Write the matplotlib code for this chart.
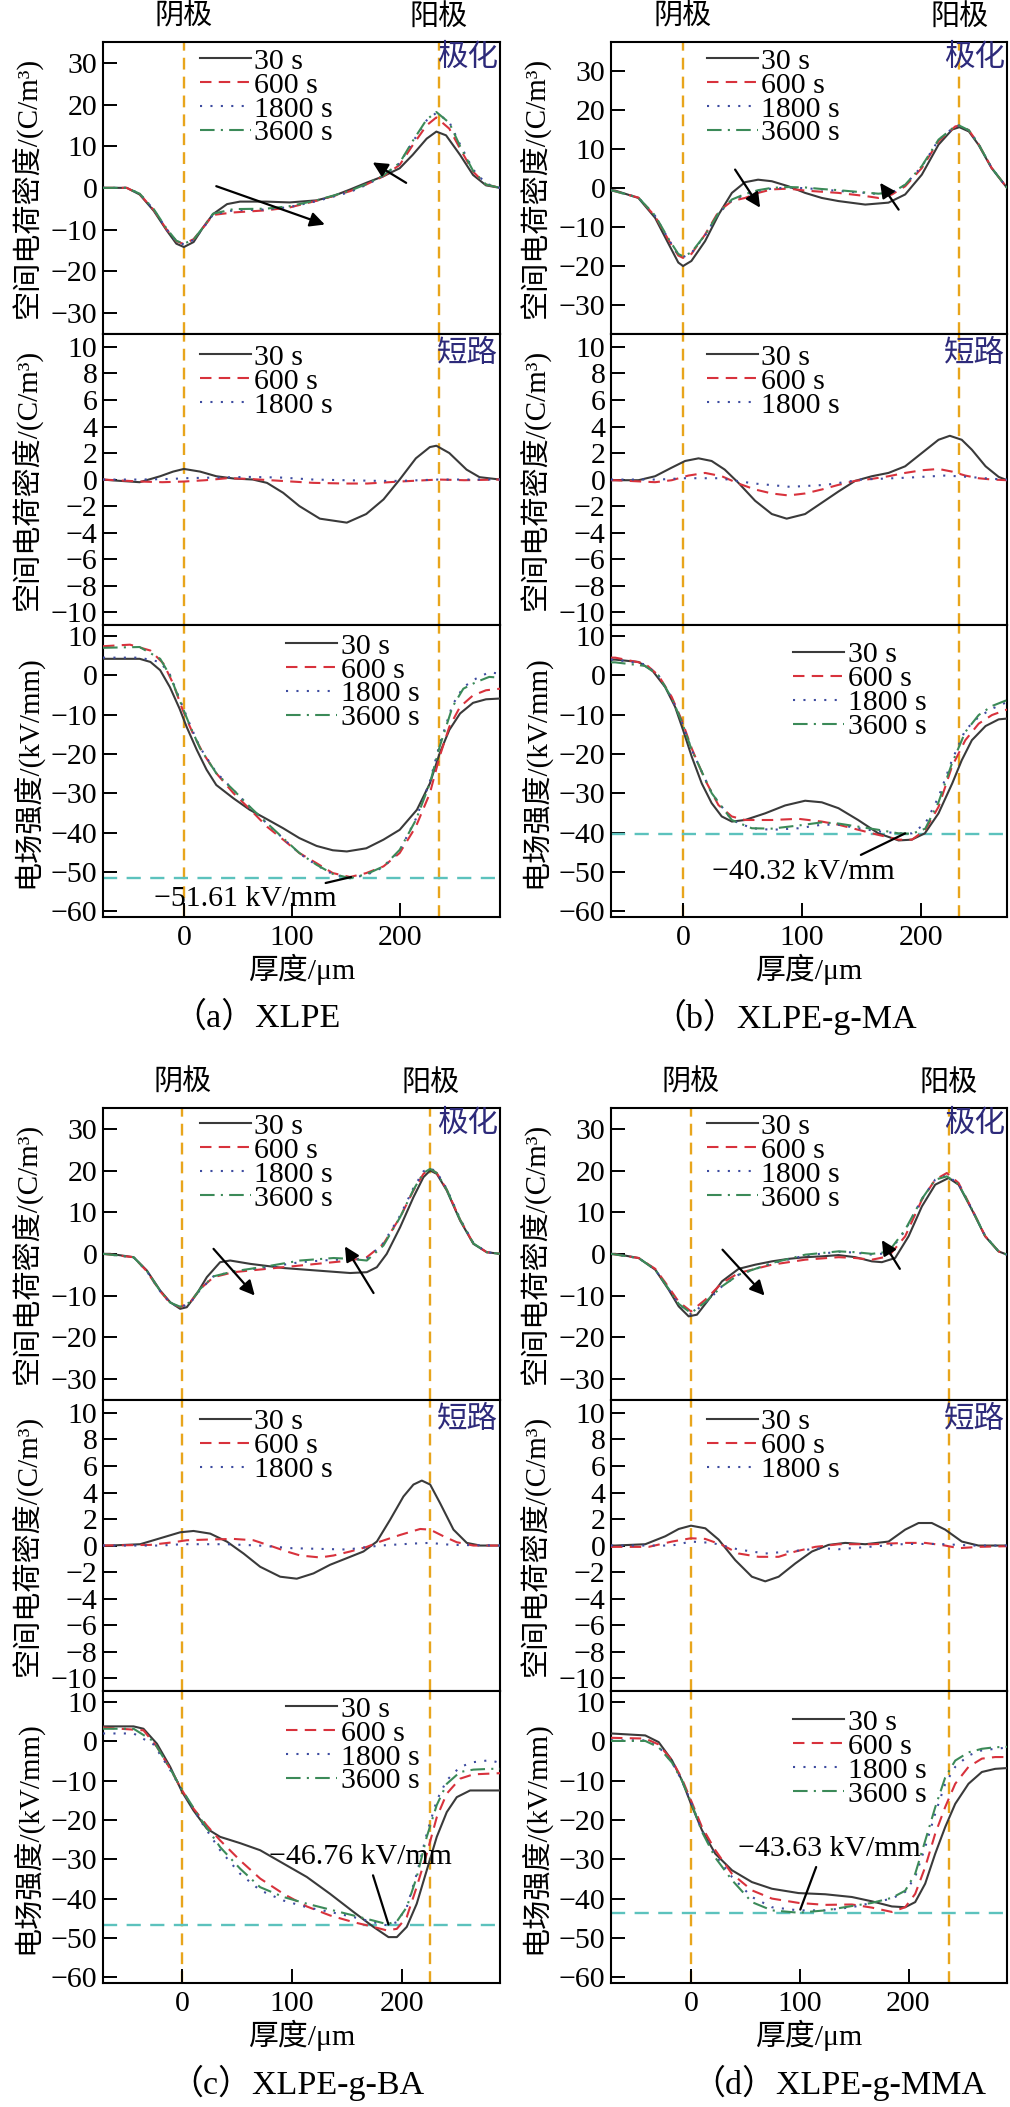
import matplotlib
matplotlib.use('Agg')
import matplotlib.pyplot as plt
import matplotlib.transforms as mtransforms

plt.rcParams['font.family'] = ['Liberation Serif', 'Noto Sans CJK SC']
plt.rcParams['axes.unicode_minus'] = True

# ---------------- labels / meta ----------------
TIMES_POL = ['30 s', '600 s', '1800 s', '3600 s']
TIMES_SC = ['30 s', '600 s', '1800 s']
CAPTIONS = ['（a）XLPE', '（b）XLPE-g-MA', '（c）XLPE-g-BA', '（d）XLPE-g-MMA']
CAPTION_X = [256, 785, 297, 839]
ANODE_X = [236, 232, 225.5, 237]
XLIMS = [(-75, 293), (-60.5, 272), (-72, 289), (-73.5, 290.5)]
PEAK_FIELD = [-51.61, -40.32, -46.76, -43.63]
PEAK_TEXT = ['−51.61 kV/mm', '−40.32 kV/mm', '−46.76 kV/mm', '−43.63 kV/mm']
PEAK_TEXT_XY = [(57, -57), (101, -50), (162, -29.4), (127, -27.3)]
PEAK_POINT = [(155, -51.3), (186.5, -40.2), (187.6, -46.6), (100.5, -42.8)]
PEAK_RELPOS = [(0.86, 1.0), (0.77, 1.0), (0.56, 0.0), (0.44, 0.0)]
ARROW1 = [((30, 0.4), (130.6, -8.8)), ((43.7, 4.7), (64.7, -5.1)),
          ((28.5, 1.2), (66, -10)), ((29, 1), (67.7, -10))]
ARROW2 = [((206, 1.2), (175, 6.1)), ((181, -5.6), (165.5, 1.3)),
          ((174, -9.4), (148, 1.8)), ((192, -3.6), (175.5, 3.3))]

# ---------------- panel (a) XLPE ----------------
A_POL_X_30 = [-75, -68, -53, -41, -28, -16, -7, 0, 9, 18, 27, 40, 52, 76, 98, 123, 138, 154, 169, 185, 200, 212, 225, 234, 243, 256, 268, 280, 293]
A_POL_Y_30 = [0, 0, 0, -1.6, -5.5, -10.2, -13.4, -14.2, -13, -9.4, -6.3, -3.9, -3.3, -3.3, -3.5, -3, -2, -0.4, 1.2, 2.8, 4.7, 7.9, 11.8, 13.5, 12.6, 7.9, 3.1, 0.6, 0]
A_POL_X = [-75, -53, -41, -28, -16, -7, 0, 9, 18, 27, 46, 76, 98, 123, 154, 169, 185, 200, 212, 225, 234, 246, 256, 268, 280, 293]
A_POL_Y_600 = [0, 0, -1.5, -5.3, -10, -12.8, -13.5, -12.3, -9.5, -6.5, -5.9, -5.4, -4.7, -3.1, -0.8, 0.8, 2.8, 5.5, 10.2, 15, 16.9, 14.2, 9.4, 3.9, 0.8, 0]
A_POL_Y_1800 = [0, 0, -1.4, -5.2, -9.9, -12.9, -13.6, -12.5, -9.6, -6.4, -5.4, -5.2, -4.6, -3.2, -1.0, 0.7, 2.9, 5.9, 11.0, 16.2, 18.0, 15.8, 10.4, 4.4, 1.0, 0]
A_POL_Y_3600 = [0, 0, -1.4, -5.1, -9.8, -12.7, -13.4, -12.4, -9.4, -6.2, -5.1, -5.0, -4.4, -3.0, -0.7, 0.9, 3.0, 6.0, 11.2, 16.4, 18.2, 15.6, 10.0, 4.1, 0.8, 0]

A_SC_X_30 = [-75, -68, -41, -22, -10, 0, 15, 30, 46, 64, 77, 92, 107, 126, 151, 169, 185, 200, 215, 228, 234, 246, 262, 274, 293]
A_SC_Y_30 = [0, -0.05, -0.2, 0.25, 0.6, 0.8, 0.6, 0.25, 0.08, 0, -0.25, -1, -2, -2.95, -3.25, -2.6, -1.5, 0, 1.6, 2.45, 2.55, 2, 0.75, 0.18, 0]
A_SC_X_600 = [-75, -40, -20, 0, 20, 40, 60, 90, 120, 150, 170, 200, 236, 260, 293]
A_SC_Y_600 = [0, -0.15, -0.2, -0.15, -0.05, 0.1, 0.05, -0.1, -0.25, -0.3, -0.3, -0.15, 0, -0.05, 0]
A_SC_X_1800 = [-75, -40, -10, 0, 30, 60, 90, 120, 150, 180, 200, 236, 293]
A_SC_Y_1800 = [0, 0, 0.05, 0.1, 0.15, 0.2, 0.15, 0.0, -0.05, -0.1, -0.1, 0, 0]

A_E_X_30 = [-75, -41, -31, -22, -13, -4, 2.5, 12, 21, 30, 46, 61, 77, 92, 107, 123, 138, 151, 169, 185, 200, 216, 228, 237, 246, 256, 268, 280, 293]
A_E_Y_30 = [4.2, 4.2, 3.4, 1.3, -3, -8.5, -13.1, -19, -24, -27.9, -31.3, -34.2, -36.6, -38.9, -41.4, -43.4, -44.5, -44.8, -44, -41.8, -39.3, -34.2, -27.5, -19.9, -13.9, -9.7, -7, -6.1, -5.9]
A_E_X_600 = [-75, -50, -31, -19, -10, -1, 9, 18, 30, 46, 61, 77, 92, 107, 123, 138, 154, 169, 185, 200, 215, 228, 237, 246, 256, 268, 280, 293]
A_E_Y_600 = [7.4, 7.8, 6.3, 3, -2.1, -8.9, -15.2, -19.9, -24.9, -30, -34, -38.5, -41.8, -45.2, -47.8, -50.3, -51.3, -50.3, -48.6, -45.2, -38.5, -30, -20.7, -13.1, -8, -5.1, -3.8, -3.4]
A_E_X = [-75, -41, -22, -13, -4, 6, 15, 30, 46, 61, 77, 92, 107, 123, 138, 154, 169, 185, 200, 215, 228, 237, 249, 259, 271, 283, 293]
A_E_Y_1800 = [4.5, 4.5, 3.4, 0.2, -6, -12.8, -18.4, -24.7, -29.2, -33.5, -37.7, -41.5, -45.3, -48.3, -50.6, -51.6, -50.8, -48.8, -44.6, -36.5, -27, -17.6, -7.5, -3, -0.8, 0.8, 0.4]
A_E_Y_3600 = [7, 7.2, 4.2, 0, -6.3, -13.1, -18.6, -24.9, -29.2, -33.4, -37.6, -41.4, -45.2, -48.2, -50.5, -51.6, -50.6, -48.6, -44.4, -36.8, -27.5, -18.2, -8, -3.4, -1.7, -0.4, -0.6]

# ---------------- panel (b) XLPE-g-MA ----------------
B_POL_X_30 = [-60.5, -57, -37.5, -23.5, -12, -4, 0, 7, 18.5, 30, 41, 52, 63, 74.5, 88.5, 102.5, 116.5, 130.5, 153, 172.5, 186.5, 200.5, 214.5, 226, 232, 240, 248, 259, 272]
B_POL_Y_30 = [-0.6, -0.7, -2.6, -7.7, -14.5, -19.2, -20.1, -18.8, -13.7, -6.8, -1.3, 1.45, 2.1, 1.7, 0.4, -1.3, -2.6, -3.4, -4.3, -3.8, -1.7, 3.4, 11.1, 15, 15.6, 14.5, 11.1, 5.1, 0]
B_POL_X = [-60.5, -37.5, -23.5, -12, -4, 0, 7, 18.5, 30, 41, 52, 63, 74.5, 88.5, 102.5, 116.5, 130.5, 153, 164, 175.4, 186.5, 200.5, 214.5, 228.6, 232, 240, 248, 259, 272]
B_POL_Y_600 = [-0.6, -2.5, -7.3, -13.5, -17.4, -18, -17, -12, -6, -3.4, -2.6, -1.3, -0.4, -0.2, -0.7, -1, -1.3, -2.1, -2.6, -1.7, 0.4, 5.1, 12, 15.8, 16, 14.8, 11.3, 5.2, 0]
B_POL_Y_1800 = [-0.6, -2.5, -7.2, -13.3, -17.2, -17.8, -16.8, -12.2, -6.5, -3.2, -1.8, -0.8, -0.2, 0.1, -0.1, -0.4, -0.8, -1.3, -1.6, -1.2, 0.8, 5.5, 12.3, 15.9, 16, 14.8, 11.3, 5.2, 0]
B_POL_Y_3600 = [-0.6, -2.5, -7.1, -13.2, -17, -17.6, -16.6, -12.1, -6.4, -3, -1.6, -0.6, 0, 0.2, 0.1, -0.3, -0.6, -1.2, -1.5, -1.2, 0.8, 5.6, 12.4, 15.9, 16, 14.8, 11.3, 5.2, 0]

B_SC_X_30 = [-60.5, -57, -37.5, -23.5, -9.5, 1.7, 13, 24, 35, 46.5, 60.5, 74.5, 87, 102.5, 116.5, 130.5, 144.5, 158.5, 172.5, 186.5, 200.5, 214.5, 224, 234, 242.5, 254, 265, 272]
B_SC_Y_30 = [-0.05, -0.05, -0.05, 0.25, 0.9, 1.4, 1.6, 1.4, 0.75, -0.25, -1.6, -2.6, -2.95, -2.6, -1.75, -0.9, -0.1, 0.25, 0.5, 1, 2, 3, 3.3, 3, 2.25, 1, 0.2, -0.05]
B_SC_X_600 = [-60.5, -57, -23.5, -9.5, 4.5, 18.5, 32.5, 46.5, 60.5, 74.5, 88.5, 102.5, 116.5, 130.5, 144.5, 158.5, 172.5, 186.5, 200.5, 214.5, 225.8, 237, 248, 259.4, 272]
B_SC_Y_600 = [-0.05, -0.05, -0.2, -0.05, 0.3, 0.5, 0.25, -0.3, -0.75, -1.05, -1.2, -1.05, -0.75, -0.4, -0.1, 0.05, 0.25, 0.5, 0.7, 0.8, 0.6, 0.3, 0.1, 0, -0.05]
B_SC_X_1800 = [-60.5, -20, 0, 30, 60, 90, 120, 150, 190, 220, 240, 260, 272]
B_SC_Y_1800 = [0, 0, 0.1, 0.1, -0.3, -0.55, -0.4, 0, 0.15, 0.3, 0.2, 0.05, 0]

B_E_X_30 = [-60.5, -57, -37.5, -26, -15, -6.7, 0, 7.3, 15.7, 24, 32.5, 41, 52, 69, 85.7, 102.5, 116.5, 130.5, 147, 164, 181, 192, 203, 214.5, 226, 234, 242.5, 254, 265, 272]
B_E_Y_30 = [4, 4, 3.4, 1.3, -3, -8, -13.9, -20.7, -27.5, -32.5, -35.9, -37.2, -36.8, -35.1, -33.1, -31.9, -32.3, -33.8, -36.8, -40.2, -42, -41.8, -40.2, -35.1, -27.5, -21.6, -16.5, -12.9, -11.2, -11]
B_E_X_600 = [-60.5, -57, -32, -20.7, -9.5, -1.1, 7.3, 18.5, 29.7, 40.9, 52.1, 74.5, 96.9, 116.5, 130.5, 147.3, 164.1, 181, 192.2, 203.4, 214.6, 225.8, 237, 248.2, 259.4, 272]
B_E_Y_600 = [4.5, 4.5, 3, 0, -5.5, -11.4, -18.6, -26.6, -33, -35.9, -36.8, -36.8, -36.5, -37.2, -38, -39.3, -40.6, -41.8, -41.8, -39.3, -33.4, -23.2, -16.5, -12.3, -10.1, -8.7]
B_E_X = [-60.5, -57, -32, -20.7, -9.5, -1.1, 7.3, 24.1, 40.9, 57.7, 74.5, 96.9, 116.5, 130.5, 147.3, 164.1, 181, 192.2, 203.4, 214.6, 225.8, 237, 248.2, 259.4, 272]
B_E_Y_1800 = [4, 4, 2.8, 0, -5.8, -11.8, -19, -30, -36.8, -38.9, -39.3, -38.9, -38, -38, -38.9, -39.7, -40.2, -40.2, -37.7, -30.9, -21.6, -13.9, -10.6, -8.5, -6.8]
B_E_Y_3600 = [3.3, 3.3, 2.4, 0, -5.8, -11.8, -19, -30, -36.8, -38.9, -39, -38.2, -37.4, -37.7, -38.5, -39.3, -40.2, -40.3, -39, -32.2, -22.4, -14.4, -10.1, -7.8, -6.3]

# ---------------- panel (c) XLPE-g-BA ----------------
C_POL_X_30 = [-72, -65.5, -44.2, -32.1, -20, -10.9, -1.8, 4.2, 13.3, 22.4, 34.5, 43.6, 61.8, 92.1, 122.4, 152.7, 167.9, 177, 186, 198.2, 210.3, 219.4, 225.5, 231.5, 240.6, 252.7, 264.8, 276.9, 289]
C_POL_Y_30 = [0, 0, -0.8, -4, -8.8, -11.6, -13.2, -12.8, -9.6, -5.6, -2, -1.6, -2.4, -3.4, -4, -4.6, -4.4, -3.2, 0, 6.4, 13.6, 18.4, 20, 19.2, 15.2, 8, 2.4, 0.4, 0]
C_POL_X = [-72, -44.2, -32.1, -20, -10.9, -1.8, 7.3, 16.4, 28.5, 46.7, 77, 107.3, 137.6, 152.7, 167.9, 183, 198.2, 210.3, 219.4, 225.5, 231.5, 240.6, 252.7, 264.8, 276.9, 289]
C_POL_Y_600 = [0, -0.8, -4.2, -9, -11.8, -12.8, -11.6, -8.4, -5.6, -4.4, -3.6, -2.8, -2, -1.6, -0.8, 2.4, 8.8, 15.2, 19.2, 20.4, 19.4, 15.4, 8.2, 2.5, 0.4, 0]
C_POL_Y_1800 = [0, -0.8, -4.2, -9, -11.8, -12.9, -11.8, -8.6, -5.4, -4.2, -3.2, -2, -1.4, -1.4, -1.2, 2.6, 9.2, 15.8, 19.8, 20.6, 19.6, 15.6, 8.4, 2.6, 0.4, 0]
C_POL_Y_3600 = [0, -0.8, -4.1, -8.9, -11.7, -12.7, -11.6, -8.4, -5.4, -4.2, -3.0, -1.6, -1.0, -1.2, -1.6, 2.0, 8.8, 15.4, 19.4, 20.4, 19.4, 15.4, 8.2, 2.5, 0.4, 0]

C_SC_X_30 = [-72, -65.5, -38.2, -20, -1.8, 10.3, 25.5, 40.6, 55.8, 70.9, 89.1, 104.2, 119.4, 134.5, 149.7, 164.8, 177, 189.1, 201.2, 210.3, 217.9, 225.5, 234.5, 246.7, 258.8, 270.9, 289]
C_SC_Y_30 = [0, 0, 0.1, 0.55, 1, 1.1, 0.9, 0.3, -0.6, -1.6, -2.35, -2.5, -2.1, -1.45, -0.95, -0.45, 0.3, 1.95, 3.7, 4.6, 4.9, 4.6, 3.2, 1.2, 0.2, 0, 0]
C_SC_X_600 = [-72, -29.1, -7.9, 4.2, 22.4, 46.7, 64.8, 83, 95.2, 107.3, 125.5, 137.6, 152.7, 167.9, 180, 198.2, 216.4, 225.5, 237.6, 249.7, 264.8, 289]
C_SC_Y_600 = [0, 0.05, 0.25, 0.4, 0.45, 0.5, 0.4, -0.1, -0.45, -0.75, -0.9, -0.75, -0.45, -0.1, 0.3, 0.8, 1.25, 1.2, 0.7, 0.25, 0, 0]
C_SC_X_1800 = [-72, -20, 0, 40, 70, 100, 150, 180, 210, 225, 245, 289]
C_SC_Y_1800 = [0, 0, 0.1, 0.1, 0, -0.2, -0.3, 0, 0.15, 0.2, 0.05, 0]

C_E_X_30 = [-72, -44.2, -35.2, -23, -10.9, 0, 10.3, 22.4, 34.5, 52.7, 70.9, 92.1, 113.3, 134.5, 155.8, 173.9, 187.6, 195.2, 204.2, 213.3, 222.4, 231.5, 240.6, 249.7, 261.8, 289]
C_E_Y_30 = [3.8, 3.8, 3.2, -0.6, -6.5, -12.9, -17.6, -22.2, -24.3, -25.9, -27.7, -31.1, -34.5, -38.8, -43.4, -47.2, -49.8, -49.8, -47.2, -41.3, -32.8, -24.3, -18, -14.2, -12.5, -12.5]
C_E_X_600 = [-72, -35.2, -23, -10.9, 0, 10.3, 22.4, 34.5, 52.7, 70.9, 92.1, 113.3, 134.5, 155.8, 173.9, 186.1, 195.2, 204.2, 213.3, 222.4, 231.5, 240.6, 252.7, 264.8, 289]
C_E_Y_600 = [3.5, 2.8, -1.4, -7, -12.5, -17.1, -21.4, -25.2, -30.3, -34.9, -38.8, -42, -44.3, -46, -47.2, -48.1, -47.7, -44.7, -37, -28.6, -19.3, -13.3, -9.5, -8.4, -8.1]
C_E_X = [-72, -44.2, -26, -10.9, 0, 16.4, 34.5, 52.7, 70.9, 92.1, 113.3, 134.5, 155.8, 173.9, 186.1, 195.2, 204.2, 213.3, 222.4, 231.5, 240.6, 252.7, 264.8, 280, 289]
C_E_Y_1800 = [2, 2, -0.8, -7.3, -12.5, -20.1, -27.7, -33.7, -37.9, -40.5, -42.2, -43.4, -44.7, -46, -46.8, -46, -42.2, -33.7, -23.5, -15, -9.9, -6.5, -5.3, -4.8, -5.5]
C_E_Y_3600 = [3.2, 3.2, 0, -7, -12.4, -19.6, -26.9, -32.4, -37.1, -39.6, -41.3, -42.8, -44.3, -45.6, -46.5, -45.8, -42.2, -34.5, -24.3, -16.2, -10.8, -7.8, -7.2, -7.0, -7.0]

# ---------------- panel (d) XLPE-g-MMA ----------------
D_POL_X_30 = [-73.5, -69.5, -48.1, -32.8, -20.5, -11.3, -2.1, 5.5, 16.2, 28.5, 43.8, 59.1, 74.4, 89.7, 105, 120.4, 135.7, 151, 166.3, 175.5, 187.7, 200, 212.3, 224.5, 236.8, 246, 258.2, 270.4, 282.7, 290.5]
D_POL_Y_30 = [0, 0, -1, -3.8, -8.6, -12.6, -15, -14.6, -11, -6.6, -3.6, -2.6, -1.8, -1.2, -0.8, -0.6, -0.3, -0.8, -1.8, -2, -1, 4.2, 11.4, 16.6, 18.2, 16.6, 10.6, 4.2, 0.6, -0.2]
D_POL_X = [-73.5, -48.1, -32.8, -20.5, -11.3, 0, 13.2, 28.5, 43.8, 74.4, 105, 135.7, 151, 166.3, 181.6, 196.9, 212.3, 224.5, 235.2, 246, 258.2, 270.4, 282.7, 290.5]
D_POL_Y_600 = [0, -1, -3.6, -8, -11.5, -13.8, -11, -7, -4.6, -2.6, -1.4, -0.8, -1, -1.4, -0.6, 4.2, 13, 17.8, 19.4, 17, 10.8, 4.3, 0.6, -0.2]
D_POL_Y_1800 = [0, -1, -3.8, -8.4, -12, -14.5, -11.8, -7.8, -5, -2.3, -0.4, 0.5, 0.3, -0.2, 0.2, 5.6, 13.2, 17.8, 18.8, 16.8, 10.7, 4.3, 0.6, -0.2]
D_POL_Y_3600 = [0, -1, -3.8, -8.4, -12, -14.2, -11.6, -7.8, -5, -2.2, -0.2, 0.6, 0.4, 0, 0.5, 5.8, 13.2, 17.8, 18.6, 16.7, 10.7, 4.3, 0.6, -0.2]

D_SC_X_30 = [-73.5, -69.5, -42, -23.6, -11.3, 0, 13.2, 25.4, 40.7, 56, 68.3, 80.6, 95.9, 111.2, 126.5, 141.8, 160.2, 181.6, 196.9, 209.2, 221.4, 233.7, 249, 264.3, 290.5]
D_SC_Y_30 = [0, 0, 0.1, 0.7, 1.25, 1.5, 1.3, 0.45, -1.1, -2.35, -2.7, -2.35, -1.35, -0.45, 0.05, 0.2, 0.1, 0.3, 1.2, 1.7, 1.7, 1.2, 0.3, 0, 0]
D_SC_X_600 = [-73.5, -38.9, -17.5, 0, 13.2, 28.5, 43.8, 62.2, 80.6, 95.9, 114.2, 135.7, 166.3, 196.9, 215.3, 233.7, 245.9, 264.3, 290.5]
D_SC_Y_600 = [-0.1, -0.1, 0.3, 0.55, 0.5, 0.05, -0.6, -0.85, -0.85, -0.45, -0.1, 0.1, 0.1, 0.2, 0.2, 0, -0.2, -0.1, -0.05]
D_SC_X_1800 = [-73.5, -17.5, 0, 19.3, 43.8, 68.3, 89.7, 120.4, 135.7, 166.3, 196.9, 227.6, 258.2, 290.5]
D_SC_Y_1800 = [0, 0, 0.3, 0.2, -0.3, -0.6, -0.45, -0.2, -0.28, -0.08, 0.12, 0.12, 0, 0]

D_E_X = [-73.5, -42, -29.7, -17.5, -8.3, 0, 10.1, 22.4, 37.7, 56, 74.4, 98.9, 123.4, 147.9, 166.3, 184.7, 196.9, 206.1, 215.3, 224.5, 233.7, 242.9, 255.1, 267.4, 279.6, 290.5]
D_E_Y_30 = [2, 1.5, -0.2, -4.8, -9.9, -15.9, -22.6, -28.6, -32.8, -35.8, -37.5, -38.6, -38.9, -39.6, -40.7, -42, -42.2, -40.9, -36.2, -28.6, -21.8, -15.9, -10.8, -7.8, -7, -6.8]
D_E_Y_600 = [0.9, 0.7, -0.8, -4.8, -9.5, -15, -21.8, -27.7, -33.7, -37.9, -40, -41.1, -41.6, -41.5, -42.3, -43.4, -42.2, -38.8, -32, -23.5, -16.7, -10.8, -6.5, -4.4, -4, -4]
D_E_Y_1800 = [0.25, 0.25, -1.4, -5.3, -10, -15.4, -22.8, -29, -34.5, -39.6, -42.2, -43, -43, -42.2, -41.1, -40, -38.3, -34.5, -26.9, -18.4, -10.8, -6.5, -3.6, -2.3, -1.9, -1.6]
D_E_Y_3600 = [0.1, 0.1, -1.5, -5.4, -10, -15.4, -23, -29.6, -35.3, -40.9, -43, -43.6, -43, -41.9, -41.1, -39.8, -38, -33.7, -25.3, -16.8, -9.2, -4.9, -2.8, -1.9, -1.5, -1.4]

POL = [
    [(A_POL_X_30, A_POL_Y_30), (A_POL_X, A_POL_Y_600), (A_POL_X, A_POL_Y_1800), (A_POL_X, A_POL_Y_3600)],
    [(B_POL_X_30, B_POL_Y_30), (B_POL_X, B_POL_Y_600), (B_POL_X, B_POL_Y_1800), (B_POL_X, B_POL_Y_3600)],
    [(C_POL_X_30, C_POL_Y_30), (C_POL_X, C_POL_Y_600), (C_POL_X, C_POL_Y_1800), (C_POL_X, C_POL_Y_3600)],
    [(D_POL_X_30, D_POL_Y_30), (D_POL_X, D_POL_Y_600), (D_POL_X, D_POL_Y_1800), (D_POL_X, D_POL_Y_3600)],
]
SC = [
    [(A_SC_X_30, A_SC_Y_30), (A_SC_X_600, A_SC_Y_600), (A_SC_X_1800, A_SC_Y_1800)],
    [(B_SC_X_30, B_SC_Y_30), (B_SC_X_600, B_SC_Y_600), (B_SC_X_1800, B_SC_Y_1800)],
    [(C_SC_X_30, C_SC_Y_30), (C_SC_X_600, C_SC_Y_600), (C_SC_X_1800, C_SC_Y_1800)],
    [(D_SC_X_30, D_SC_Y_30), (D_SC_X_600, D_SC_Y_600), (D_SC_X_1800, D_SC_Y_1800)],
]
FIELD = [
    [(A_E_X_30, A_E_Y_30), (A_E_X_600, A_E_Y_600), (A_E_X, A_E_Y_1800), (A_E_X, A_E_Y_3600)],
    [(B_E_X_30, B_E_Y_30), (B_E_X_600, B_E_Y_600), (B_E_X, B_E_Y_1800), (B_E_X, B_E_Y_3600)],
    [(C_E_X_30, C_E_Y_30), (C_E_X_600, C_E_Y_600), (C_E_X, C_E_Y_1800), (C_E_X, C_E_Y_3600)],
    [(D_E_X, D_E_Y_30), (D_E_X, D_E_Y_600), (D_E_X, D_E_Y_1800), (D_E_X, D_E_Y_3600)],
]

# ---------------- styling ----------------
STYLES = {
    '30 s': dict(color='#3a3a3a', ls='-'),
    '600 s': dict(color='#d8323c', ls=(0, (5.5, 3.5))),
    '1800 s': dict(color='#3d4ba0', ls=(0, (1, 4))),
    '3600 s': dict(color='#3b8a58', ls=(0, (7, 3, 1, 3))),
}
ORANGE = '#e8a51c'
CYAN = '#5cc2bd'
PURPLE = '#2d2a7a'
FS = 21.5
LW = 1.5

W, H = 1010, 2107
fig = plt.figure(figsize=(W / 100, H / 100), dpi=100)

PANEL_LEFT = [103, 611, 103, 611]
PANEL_W = [397, 396, 397, 396]
PANEL_TOP = [42, 42, 1108, 1108]
SUB_H = 291.7
LEG_X = [[0.244, 0.244, 0.462], [0.242, 0.242, 0.46], [0.244, 0.244, 0.462], [0.242, 0.242, 0.46]]
LEG_Y = [[0.98, 0.965, 0.975], [0.98, 0.965, 0.945], [0.983, 0.97, 0.985], [0.983, 0.97, 0.94]]


def add_ax(left, top, width, height):
    return fig.add_axes([left / W, 1 - (top + height) / H, width / W, height / H])


for p in range(4):
    left, width, top = PANEL_LEFT[p], PANEL_W[p], PANEL_TOP[p]
    axs = [add_ax(left, top + i * SUB_H, width, SUB_H) for i in range(3)]
    ylims = [(-37.5, 37.5) if p == 1 else (-35, 35), (-11, 11), (-61.5, 12.7)]
    yticks = [range(-30, 31, 10), range(-10, 11, 2), range(-60, 11, 10)]
    ylabels = ['空间电荷密度/(C/m³)', '空间电荷密度/(C/m³)', '电场强度/(kV/mm)']
    datasets = [POL[p], SC[p], FIELD[p]]
    names = [TIMES_POL, TIMES_SC, TIMES_POL]
    for i, ax in enumerate(axs):
        ax.set_xlim(*XLIMS[p])
        ax.set_ylim(*ylims[i])
        ax.set_yticks(list(yticks[i]))
        for s in ax.spines.values():
            s.set_linewidth(1.5)
        ax.tick_params(axis='y', direction='in', length=10, width=1.4, pad=4,
                       labelsize=FS, right=False)
        if i < 2:
            ax.tick_params(axis='x', bottom=False, labelbottom=False)
        else:
            ax.set_xticks([0, 100, 200])
            ax.tick_params(axis='x', direction='in', length=10, width=1.4, pad=6,
                           labelsize=FS, top=False)
            ax.set_xlabel('厚度/μm', fontsize=21.5, labelpad=2)
        ax.set_ylabel(ylabels[i], fontsize=21)
        ax.yaxis.set_label_coords(-61 / width, 0.5)
        for xv in (0, ANODE_X[p]):
            ax.axvline(xv, color=ORANGE, lw=1.7, ls=(0, (5, 3)), zorder=1)
        for name, (xs, ys) in zip(names[i], datasets[i]):
            ax.plot(xs, ys, lw=LW, label=name, zorder=3, **STYLES[name])
        ax.legend(loc='upper left', bbox_to_anchor=(LEG_X[p][i], LEG_Y[p][i]),
                  frameon=False, fontsize=FS, handlelength=1.7, handletextpad=0.12,
                  labelspacing=-0.1, borderpad=0, borderaxespad=0)
    # top electrode labels
    trans = mtransforms.blended_transform_factory(axs[0].transData, axs[0].transAxes)
    axs[0].text(0, 1.085, '阴极', transform=trans, ha='center', va='center', fontsize=21)
    axs[0].text(ANODE_X[p], 1.085, '阳极', transform=trans, ha='center', va='center', fontsize=21)
    axs[0].text(0.995, 0.995, '极化', transform=axs[0].transAxes, ha='right', va='top',
                fontsize=22, color=PURPLE)
    axs[1].text(0.995, 0.98, '短路', transform=axs[1].transAxes, ha='right', va='top',
                fontsize=22, color=PURPLE)
    # arrows in polarization plot
    for (st, en) in (ARROW1[p], ARROW2[p]):
        axs[0].annotate('', xy=en, xytext=st,
                        arrowprops=dict(arrowstyle='-|>', color='black', lw=1.6,
                                        mutation_scale=22, shrinkA=0, shrinkB=0), zorder=5)
    # max field line & annotation
    axs[2].axhline(PEAK_FIELD[p], color=CYAN, lw=1.7, ls=(0, (6, 4)), zorder=2)
    axs[2].annotate(PEAK_TEXT[p], xy=PEAK_POINT[p], xytext=PEAK_TEXT_XY[p],
                    ha='center', va='center', fontsize=FS,
                    arrowprops=dict(arrowstyle='-', color='black', lw=1.6,
                                    relpos=PEAK_RELPOS[p], shrinkA=2, shrinkB=0), zorder=6)
    # caption
    cap_y = 1 - (top + 3 * SUB_H + 100) / H
    fig.text(CAPTION_X[p] / W, cap_y, CAPTIONS[p], ha='center', va='center', fontsize=24.5)

fig.savefig('out.png', dpi=100)
